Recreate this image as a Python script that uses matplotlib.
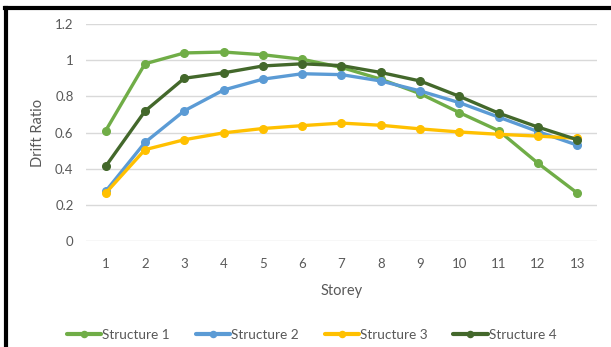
import matplotlib
matplotlib.use("Agg")
import matplotlib.pyplot as plt
from matplotlib.lines import Line2D

# Drift ratio per storey
storeys = list(range(1, 14))
structure_1 = [0.61, 0.98, 1.04, 1.045, 1.03, 1.005, 0.96, 0.895, 0.815, 0.71, 0.61, 0.43, 0.265]
structure_2 = [0.275, 0.545, 0.72, 0.835, 0.895, 0.925, 0.92, 0.885, 0.83, 0.765, 0.685, 0.605, 0.53]
structure_3 = [0.265, 0.505, 0.56, 0.598, 0.622, 0.638, 0.652, 0.64, 0.62, 0.603, 0.59, 0.58, 0.568]
structure_4 = [0.413, 0.718, 0.9, 0.93, 0.968, 0.98, 0.97, 0.932, 0.885, 0.8, 0.707, 0.63, 0.56]

series = [
    ("Structure 1", structure_1, "#70ad47"),
    ("Structure 2", structure_2, "#5b9bd5"),
    ("Structure 3", structure_3, "#ffc000"),
    ("Structure 4", structure_4, "#43682b"),
]

plt.rcParams["font.family"] = ["Lato", "DejaVu Sans"]
text_color = "#595959"

fig = plt.figure(figsize=(6.11, 3.47), dpi=100, facecolor="white")
ax = fig.add_axes([0.1408, 0.3055, 0.8362, 0.6253])

for name, values, color in series:
    ax.plot(storeys, values, color=color, linewidth=2.4, marker="o", markersize=5.5,
            label=name, solid_capstyle="round", zorder=3)

ax.set_xlim(0.5, 13.5)
ax.set_ylim(0, 1.2)
ax.set_xticks(storeys)
ax.set_yticks([0, 0.2, 0.4, 0.6, 0.8, 1.0, 1.2])
ax.set_yticklabels(["0", "0.2", "0.4", "0.6", "0.8", "1", "1.2"])
ax.grid(axis="y", color="#d9d9d9", linewidth=1)
ax.set_axisbelow(True)
for s in ax.spines.values():
    s.set_visible(False)
ax.tick_params(length=0, labelsize=9.5, colors=text_color, pad=9)
ax.tick_params(axis="x", pad=12)

ax.set_xlabel("Storey", fontsize=10.5, color=text_color, labelpad=10)
ax.set_ylabel("Drift Ratio", fontsize=10.5, color=text_color, labelpad=7)

leg = fig.legend(loc="center", bbox_to_anchor=(0.51, 0.035), ncol=4, frameon=False,
                 fontsize=9.8, handlelength=2.5, handletextpad=0.1, columnspacing=1.9,
                 markerscale=0.8)
for t in leg.get_texts():
    t.set_color(text_color)
for h in leg.legend_handles:
    h.set_linewidth(3)

# black frame fragment at top and left, as in the reference crop
fig.add_artist(Line2D([0.008, 1.0], [0.976, 0.976], transform=fig.transFigure, color="black", linewidth=3))
fig.add_artist(Line2D([0.0105, 0.0105], [0.0, 0.976], transform=fig.transFigure, color="black", linewidth=3))

fig.savefig("out.png", dpi=100, facecolor="white")
